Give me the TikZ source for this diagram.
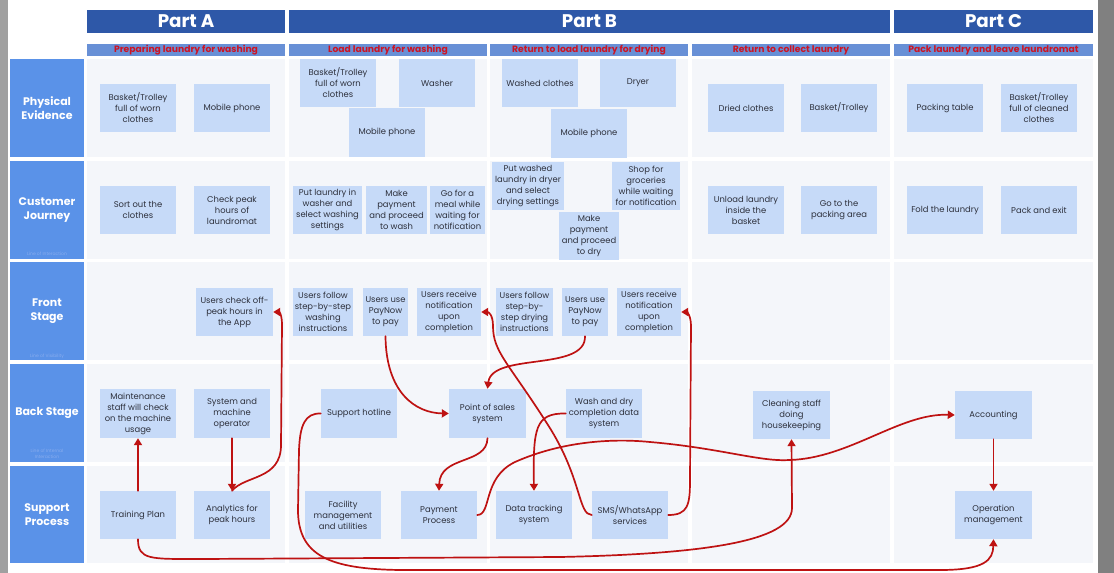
\documentclass[tikz,border=0pt]{standalone}
\usepackage{fontspec}
\setmainfont{Poppins}
\usetikzlibrary{arrows.meta}
\definecolor{hdr}{RGB}{46,88,168}
\definecolor{subc}{RGB}{104,144,214}
\definecolor{subtxt}{RGB}{205,20,35}
\definecolor{lab}{RGB}{90,146,232}
\definecolor{cellc}{RGB}{244,246,250}
\definecolor{nfill}{RGB}{198,218,248}
\definecolor{ntxt}{RGB}{45,48,60}
\definecolor{arr}{RGB}{190,18,18}
\definecolor{faintc}{RGB}{135,172,238}
\definecolor{sidegray}{RGB}{160,160,160}
\newcommand\bxfont{\fontsize{8.4}{11}\selectfont}
\newcommand\rbox[7]{\node[#1, minimum width={#4-#2}, minimum height={#5-#3}] (#6) at ({(#2+#4)/2},{(#3+#5)/2}) {#7};}
\begin{document}
\begin{tikzpicture}[x=1pt,y=-1pt,
  hdrbox/.style={fill=hdr, text=white, inner sep=0pt, font=\fontsize{18.3}{20}\selectfont\bfseries},
  subbox/.style={fill=subc, text=subtxt, inner sep=0pt, font=\fontsize{9.2}{10}\selectfont\bfseries},
  labbox/.style={fill=lab, text=white, inner sep=0pt, align=center, font=\fontsize{11}{14}\selectfont\bfseries},
  nbox/.style={fill=nfill, text=ntxt, inner sep=0pt, align=center, font=\bxfont},
  faint/.style={text=faintc, inner sep=0pt, align=center, font=\fontsize{4.5}{6}\selectfont},
  conn/.style={draw=arr, line width=1.7pt, line cap=round, -{Triangle[length=7pt,width=8pt]}}
]
\useasboundingbox (0,0) rectangle (1114,573);
\fill[white] (0,0) rectangle (1114,573);
\fill[sidegray] (0,0) rectangle (8,573);
\fill[sidegray!80!black] (1098,0) rectangle (1114,573);

% headers
\rbox{hdrbox}{87}{10}{285}{33}{ha}{Part A}
\rbox{hdrbox}{289}{10}{890}{33}{hb}{Part B}
\rbox{hdrbox}{894}{10}{1093}{33}{hc}{Part C}
\rbox{subbox}{87}{44}{285}{56}{s1}{Preparing laundry for washing}
\rbox{subbox}{289}{44}{487}{56}{s2}{Load laundry for washing}
\rbox{subbox}{490}{44}{688}{56}{s3}{Return to load laundry for drying}
\rbox{subbox}{692}{44}{890}{56}{s4}{Return to collect laundry}
\rbox{subbox}{894}{44}{1093}{56}{s5}{Pack laundry and leave laundromat}

% cells
\foreach \xa/\xb in {87/285,289/487,490/688,692/890,894/1093}
  \foreach \ya/\yb in {59/157,161/259,262/360,364/462,466/563}
    \fill[cellc] (\xa,\ya) rectangle (\xb,\yb);

% row labels
\rbox{labbox}{10}{59}{84}{157}{lpe}{Physical\\Evidence}
\rbox{labbox}{10}{161}{84}{259}{lcj}{Customer\\Journey}
\rbox{labbox}{10}{262}{84}{360}{lfs}{Front\\Stage}
\rbox{labbox}{10}{364}{84}{462}{lbs}{Back Stage}
\rbox{labbox}{10}{466}{84}{563}{lsp}{Support\\Process}
\node[faint] (li1) at (47,254) {Line of Interaction};
\node[faint] (li2) at (47,356) {Line of Visibility};
\node[faint] (li3) at (47,454) {Line of Internal\\Interaction};

% physical evidence
\rbox{nbox}{100}{84}{176}{132}{pe1}{Basket/Trolley\\full of worn\\clothes}
\rbox{nbox}{194}{84}{270}{132}{pe2}{Mobile phone}
\rbox{nbox}{300}{59}{376}{107}{pe3}{Basket/Trolley\\full of worn\\clothes}
\rbox{nbox}{399}{59}{475}{107}{pe4}{Washer}
\rbox{nbox}{349}{108}{425}{157}{pe5}{Mobile phone}
\rbox{nbox}{502}{59}{578}{107}{pe6}{Washed clothes}
\rbox{nbox}{600}{59}{676}{107}{pe7}{Dryer}
\rbox{nbox}{551}{109}{627}{158}{pe8}{Mobile phone}
\rbox{nbox}{708}{84}{784}{132}{pe9}{Dried clothes}
\rbox{nbox}{801}{84}{877}{132}{pe10}{Basket/Trolley}
\rbox{nbox}{907}{84}{983}{132}{pe11}{Packing table}
\rbox{nbox}{1001}{84}{1077}{132}{pe12}{Basket/Trolley\\full of cleaned\\clothes}

% customer journey
\rbox{nbox}{100}{186}{176}{234}{cj1}{Sort out the\\clothes}
\rbox{nbox}{194}{186}{270}{234}{cj2}{Check peak\\hours of\\laundromat}
\rbox{nbox}{293}{186}{362}{234}{cj3}{Put laundry in\\washer and\\select washing\\settings}
\rbox{nbox}{366}{186}{427}{234}{cj4}{Make\\payment\\and proceed\\to wash}
\rbox{nbox}{430}{186}{485}{234}{cj5}{Go for a\\meal while\\waiting for\\notification}
\rbox{nbox}{492}{162}{564}{210}{cj6}{Put washed\\laundry in dryer\\and select\\drying settings}
\rbox{nbox}{612}{162}{680}{210}{cj7}{Shop for\\groceries\\while waiting\\for notification}
\rbox{nbox}{559}{212}{619}{260}{cj8}{Make\\payment\\and proceed\\to dry}
\rbox{nbox}{708}{186}{784}{234}{cj9}{Unload laundry\\inside the\\basket}
\rbox{nbox}{801}{186}{877}{234}{cj10}{Go to the\\packing area}
\rbox{nbox}{907}{186}{983}{234}{cj11}{Fold the laundry}
\rbox{nbox}{1001}{186}{1077}{234}{cj12}{Pack and exit}

% front stage
\rbox{nbox}{196}{288}{273}{336}{chk}{Users check off-\\peak hours in\\the App}
\rbox{nbox}{293}{288}{353}{336}{fw}{Users follow\\step-by-step\\washing\\instructions}
\rbox{nbox}{363}{288}{408}{336}{pw}{Users use\\PayNow\\to pay}
\rbox{nbox}{417}{288}{481}{336}{nw}{Users receive\\notification\\upon\\completion}
\rbox{nbox}{496}{288}{553}{336}{fd}{Users follow\\step-by-\\step drying\\instructions}
\rbox{nbox}{562}{288}{608}{336}{pd}{Users use\\PayNow\\to pay}
\rbox{nbox}{617}{288}{681}{336}{nd}{Users receive\\notification\\upon\\completion}

% back stage
\rbox{nbox}{100}{389}{176}{438}{mnt}{Maintenance\\staff will check\\on the machine\\usage}
\rbox{nbox}{194}{389}{270}{438}{sys}{System and\\machine\\operator}
\rbox{nbox}{321}{389}{397}{438}{sup}{Support hotline}
\rbox{nbox}{449}{389}{526}{438}{pos}{Point of sales\\system}
\rbox{nbox}{566}{389}{642}{438}{wdc}{Wash and dry\\completion data\\system}
\rbox{nbox}{753}{391}{830}{439}{cls}{Cleaning staff\\doing\\housekeeping}
\rbox{nbox}{955}{391}{1032}{439}{acc}{Accounting}

% support process
\rbox{nbox}{100}{491}{176}{539}{tp}{Training Plan}
\rbox{nbox}{194}{491}{270}{539}{ana}{Analytics for\\peak hours}
\rbox{nbox}{305}{491}{381}{539}{fac}{Facility\\management\\and utilities}
\rbox{nbox}{401}{491}{477}{539}{pay}{Payment\\Process}
\rbox{nbox}{496}{491}{572}{539}{dts}{Data tracking\\system}
\rbox{nbox}{592}{491}{668}{539}{sms}{SMS/WhatsApp\\services}
\rbox{nbox}{955}{491}{1032}{539}{opm}{Operation\\management}

% connectors
\draw[conn] (tp.north) -- (mnt.south);
\draw[conn] (sys.south) -- (ana.north);
\draw[conn] (ana.north) .. controls (245,475) and (281,480) .. (281,445) -- (282,325) .. controls (282,314) and (279,312) .. (chk.east);
\draw[conn] (pw.south) .. controls (386,392) and (415,413) .. (pos.west);
\draw[conn] (pd.south) .. controls (586,372) and (492,352) .. (pos.north);
\draw[conn] (pos.south) .. controls (487,465) and (440,455) .. (pay.north);
\draw[conn] (wdc.west) .. controls (535,413) and (533,428) .. (dts.north);
\draw[conn] (sms.west) .. controls (578,515) and (582,478) .. (548,425) .. controls (508,362) and (493,352) .. (493,326) .. controls (493,314) and (488,312) .. (nw.east);
\draw[conn] (sms.east) .. controls (688,515) and (690,505) .. (690,480) -- (691,326) .. controls (691,314) and (686,312) .. (nd.east);
\draw[conn] (pay.east) .. controls (492,515) and (482,478) .. (515,462) .. controls (560,442) and (610,438) .. (650,442) .. controls (720,448) and (760,462) .. (790,460) .. controls (850,458) and (900,413) .. (acc.west);
\draw[conn] (acc.south) -- (opm.north);
\draw[conn] (tp.south) .. controls (138,560) and (150,559) .. (200,559) -- (560,557) .. controls (700,554) and (792,542) .. (792,508) -- (cls.south);
\draw[conn] (sup.west) .. controls (305,413) and (300,425) .. (299,450) -- (298,510) .. controls (298,556) and (330,569) .. (400,570) -- (940,570) .. controls (985,570) and (993,560) .. (opm.south);
\end{tikzpicture}
\end{document}
